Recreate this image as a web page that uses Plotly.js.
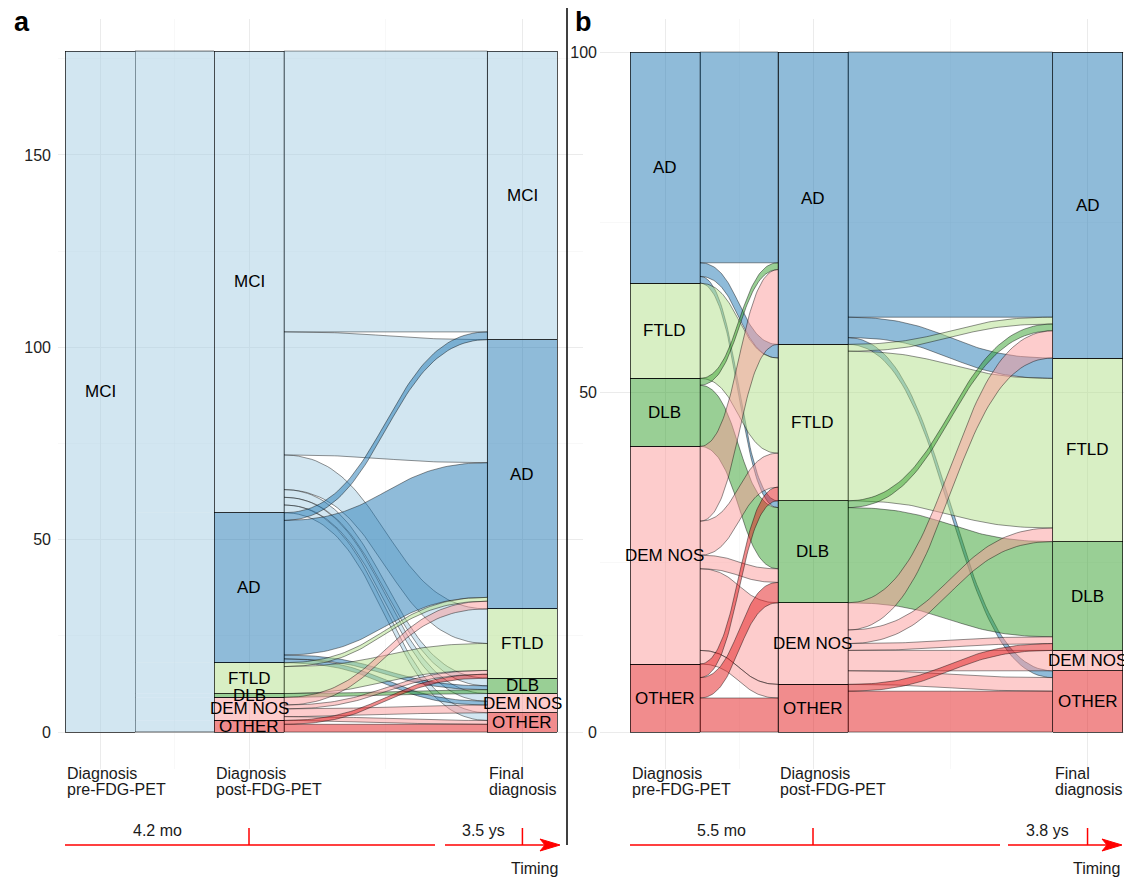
<!DOCTYPE html>
<html><head><meta charset="utf-8">
<script src="https://cdn.plot.ly/plotly-3.0.1.min.js"></script>
<style>html,body{margin:0;padding:0;background:#fff}#chart{width:1124px;height:877px}</style>
</head><body><div id="chart"></div>
<script>
// ---------------- DATA ----------------
const categories = ["MCI","AD","FTLD","DLB","DEM NOS","OTHER"];
const categoryColors = ["#A6CEE3","#1F78B4","#B2DF8A","#33A02C","#FB9A99","#E31A1C"];
const axisTitles = [["Diagnosis","pre-FDG-PET"],["Diagnosis","post-FDG-PET"],["Final","diagnosis"]];

// Panel a: MCI cohort (number of patients)  [from, to, count]
const flowsA_preToPost = [
  ["MCI","MCI",120],["MCI","AD",39],["MCI","FTLD",8],["MCI","DLB",1],["MCI","DEM NOS",6],["MCI","OTHER",3]
];
const flowsA_postToFinal = [
  ["MCI","MCI",73],["MCI","AD",32],["MCI","FTLD",9],["MCI","DLB",2],["MCI","DEM NOS",2],["MCI","OTHER",2],
  ["AD","MCI",2],["AD","AD",35],["AD","DLB",1],["AD","DEM NOS",1],
  ["FTLD","AD",1],["FTLD","FTLD",7],
  ["DLB","DLB",1],
  ["DEM NOS","AD",2],["DEM NOS","FTLD",1],["DEM NOS","DEM NOS",2],["DEM NOS","OTHER",1],
  ["OTHER","FTLD",1],["OTHER","OTHER",2]
];
const timingA = ["4.2 mo","3.5 ys"];
const yTicksA = [0,50,100,150];
const yMinorA = [25,75,125,175];

// Panel b: dementia cohort (%)  [from, to, percent]
const flowsB_preToPost = [
  ["AD","AD",31],["AD","FTLD",2],["AD","DLB",1],
  ["FTLD","FTLD",14],
  ["DLB","AD",1],["DLB","DLB",9],
  ["DEM NOS","AD",11],["DEM NOS","FTLD",5],["DEM NOS","DLB",2],["DEM NOS","DEM NOS",12],["DEM NOS","OTHER",2],
  ["OTHER","FTLD",2],["OTHER","DLB",3],["OTHER","OTHER",5]
];
const flowsB_postToFinal = [
  ["AD","AD",39],["AD","FTLD",3],["AD","OTHER",1],
  ["FTLD","AD",1],["FTLD","FTLD",22],
  ["DLB","AD",1],["DLB","DLB",14],
  ["DEM NOS","AD",4],["DEM NOS","FTLD",2],["DEM NOS","DLB",1],["DEM NOS","DEM NOS",3],["DEM NOS","OTHER",2],
  ["OTHER","DLB",1],["OTHER","OTHER",6]
];
const timingB = ["5.5 mo","3.8 ys"];
const yTicksB = [0,50,100];
const yMinorB = [25,75];

// ---------------- LAYOUT HELPERS ----------------
const W = 1124, H = 877;
const FONT = "Liberation Sans, Arial, Helvetica, sans-serif";
const py = px => (H - px) / H;
const px2x = px => px / W;
function rgba(hex, a){
  const n = parseInt(hex.slice(1),16);
  return `rgba(${(n>>16)&255},${(n>>8)&255},${n&255},${a})`;
}
const cIdx = c => categories.indexOf(c);

const panels = [
  {flows:[flowsA_preToPost, flowsA_postToFinal], outline:[false,true], xa:'x', ya:'y',
   xDomPx:[58,583], pos:[1,2,3.835], unitPx:149, firstCenterPx:100, pxPerUnitY:3.847,
   yTicks:yTicksA, yMinor:yMinorA, timing:timingA, letter:'a', letterPx:12, gapPx:[435,445], tipPx:560, standoff:6},
  {flows:[flowsB_preToPost, flowsB_postToFinal], outline:[true,true], xa:'x2', ya:'y2',
   xDomPx:[600,1124], pos:[1,2,3.855], unitPx:148, firstCenterPx:665, pxPerUnitY:6.8,
   yTicks:yTicksB, yMinor:yMinorB, timing:timingB, letter:'b', letterPx:573, gapPx:[1000,1008], tipPx:1122, standoff:2}
];
const Y0PX = 732, YTOPPX = 19, YBOTPX = 769;
const strataWidthPx = 70;

function totals(flows, side){
  const t = categories.map(()=>0);
  flows.forEach(f => { t[cIdx(f[side])] += f[2]; });
  return t;
}
function tops(tot){
  const total = tot.reduce((a,b)=>a+b,0);
  const res = []; let cur = total;
  tot.forEach((v,i)=>{ res[i]=cur; cur-=v; });
  return res;
}
function bez(p0,p1,p2,p3,t){
  const u=1-t; return u*u*u*p0+3*u*u*t*p1+3*u*t*t*p2+t*t*t*p3;
}
function curve(xL,yL,xR,yR,n){
  const dx = xR-xL, k=0.5, xs=[], ys=[];
  for(let i=0;i<=n;i++){
    const t=i/n;
    xs.push(bez(xL,xL+k*dx,xR-k*dx,xR,t));
    ys.push(bez(yL,yL,yR,yR,t));
  }
  return [xs,ys];
}

const traces = [], annotations = [], shapes = [];
const layout = {
  width:W, height:H, margin:{l:0,r:0,t:0,b:0}, paper_bgcolor:'#fff', plot_bgcolor:'rgba(0,0,0,0)',
  showlegend:false, barmode:'stack', font:{family:FONT, color:'#000'},
  annotations, shapes
};

panels.forEach((P, pi) => {
  const hw = strataWidthPx / P.unitPx / 2;
  const xr = [1 - (P.firstCenterPx - P.xDomPx[0]) / P.unitPx, 1 + (P.xDomPx[1] - P.firstCenterPx) / P.unitPx];
  const yr = [(Y0PX - YBOTPX) / P.pxPerUnitY, (Y0PX - YTOPPX) / P.pxPerUnitY];
  const xKey = pi===0 ? 'xaxis' : 'xaxis2', yKey = pi===0 ? 'yaxis' : 'yaxis2';
  const mids = [(P.pos[0]+P.pos[1])/2, (P.pos[1]+P.pos[2])/2];
  layout[xKey] = {domain:[px2x(P.xDomPx[0]), px2x(P.xDomPx[1])], range:xr, anchor:P.ya,
    tickmode:'array', tickvals:P.pos, showticklabels:false, ticks:'', showline:false, zeroline:false,
    showgrid:true, gridcolor:'#EBEBEB', gridwidth:1,
    minor:{tickmode:'array', tickvals:mids, showgrid:true, gridcolor:'#F3F3F3', gridwidth:0.6, ticks:''}};
  layout[yKey] = {domain:[py(YBOTPX), py(YTOPPX)], range:yr, anchor:P.xa,
    tickmode:'array', tickvals:P.yTicks, ticktext:P.yTicks.map(String), ticks:'', showline:false, zeroline:false,
    ticklabelstandoff:P.standoff,
    showgrid:true, gridcolor:'#EBEBEB', gridwidth:1, tickfont:{size:16, color:'#222', family:FONT},
    minor:{tickmode:'array', tickvals:P.yMinor, showgrid:true, gridcolor:'#F3F3F3', gridwidth:0.6, ticks:''}};

  const axTot = [totals(P.flows[0],0), totals(P.flows[0],1), totals(P.flows[1],1)];

  // flows
  P.flows.forEach((flows, fi) => {
    const fromTop = tops(totals(flows,0)), toTop = tops(totals(flows,1));
    const xL = P.pos[fi] + hw, xR = P.pos[fi+1] - hw;
    const L = {}, R = {};
    categories.forEach((c) => {
      let cur = fromTop[cIdx(c)];
      flows.filter(f=>f[0]===c).sort((a,b)=>cIdx(a[1])-cIdx(b[1])).forEach(f=>{
        L[f[0]+'|'+f[1]] = [cur, cur-f[2]]; cur -= f[2];
      });
      cur = toTop[cIdx(c)];
      flows.filter(f=>f[1]===c).sort((a,b)=>cIdx(a[0])-cIdx(b[0])).forEach(f=>{
        R[f[0]+'|'+f[1]] = [cur, cur-f[2]]; cur -= f[2];
      });
    });
    let topEdge=null, botEdge=null, maxTop=-1e9, minBot=1e9;
    flows.forEach(f => {
      const key = f[0]+'|'+f[1];
      const [lt, lb] = L[key], [rt, rb] = R[key];
      const [tx, ty] = curve(xL, lt, xR, rt, 60);
      const [bx, by] = curve(xL, lb, xR, rb, 60);
      const xs = tx.concat(bx.slice().reverse(), [tx[0]]);
      const ys = ty.concat(by.slice().reverse(), [ty[0]]);
      const tr = {type:'scatter', x:xs, y:ys, xaxis:P.xa, yaxis:P.ya, fill:'toself',
        fillcolor:rgba(categoryColors[cIdx(f[0])],0.5), hoverinfo:'skip', showlegend:false};
      if (P.outline[fi]) { tr.mode='lines'; tr.line={color:'rgba(0,0,0,0.85)', width:0.5}; }
      else { tr.mode='none'; }
      traces.push(tr);
      if (lt+rt > maxTop){ maxTop = lt+rt; topEdge=[tx,ty]; }
      if (lb+rb < minBot){ minBot = lb+rb; botEdge=[bx,by]; }
    });
    if (!P.outline[fi]) {
      [topEdge, botEdge].forEach(e => traces.push({type:'scatter', mode:'lines', x:e[0], y:e[1],
        xaxis:P.xa, yaxis:P.ya, line:{color:'rgba(0,0,0,0.85)', width:0.7}, hoverinfo:'skip', showlegend:false}));
    }
  });

  // strata as stacked bars (bottom category first)
  for (let ci = categories.length-1; ci >= 0; ci--) {
    const ys = axTot.map(t => t[ci] > 0 ? t[ci] : null);
    traces.push({type:'bar', x:P.pos, y:ys, width:2*hw, xaxis:P.xa, yaxis:P.ya,
      marker:{color:rgba(categoryColors[ci],0.5), line:{color:'rgba(0,0,0,0.85)', width:0.8}},
      hoverinfo:'skip', showlegend:false, textposition:'none'});
  }
  // strata labels
  axTot.forEach((tot, ai) => {
    const tp = tops(tot);
    tot.forEach((v, ci) => {
      if (v <= 0) return;
      annotations.push({x:P.pos[ai], y:tp[ci]-v/2, xref:P.xa, yref:P.ya, text:categories[ci],
        showarrow:false, font:{size:17, color:'#000', family:FONT}, xanchor:'center', yanchor:'middle'});
    });
  });

  // axis titles under strata
  const xref = P.xa;
  axisTitles.forEach((lines, ai) => {
    lines.forEach((t, li) => {
      annotations.push({x:P.pos[ai]-hw, y:py(773 + li*16.5), xref, yref:'paper', text:t, showarrow:false,
        xanchor:'left', yanchor:'middle', font:{size:16, color:'#1a1a1a', family:FONT}});
    });
  });

  // timing arrows
  const toX = px => 1 + (px - P.firstCenterPx) / P.unitPx;
  const yA = py(845), yTick = py(828);
  const red = '#FF0000';
  const start = P.pos[0]-hw, tip = toX(P.tipPx);
  const headLen = 20 / P.unitPx, headHalf = 6 / H;
  shapes.push({type:'line', xref, yref:'paper', x0:start, x1:toX(P.gapPx[0]), y0:yA, y1:yA, line:{color:red, width:1.5}});
  shapes.push({type:'line', xref, yref:'paper', x0:toX(P.gapPx[1]), x1:tip-headLen*0.8, y0:yA, y1:yA, line:{color:red, width:1.5}});
  shapes.push({type:'path', xref, yref:'paper',
    path:`M ${tip-headLen},${yA+headHalf} L ${tip},${yA} L ${tip-headLen},${yA-headHalf} L ${tip-headLen*0.75},${yA} Z`,
    fillcolor:red, line:{color:red, width:1}});
  [P.pos[1], P.pos[2]].forEach(xv => shapes.push({type:'line', xref, yref:'paper', x0:xv, x1:xv, y0:yA, y1:yTick, line:{color:red, width:1.5}}));
  annotations.push({x:(start+P.pos[1])/2, y:py(830), xref, yref:'paper', text:P.timing[0], showarrow:false,
    xanchor:'center', yanchor:'middle', font:{size:16, color:'#1a1a1a', family:FONT}});
  annotations.push({x:(toX(P.gapPx[1])+P.pos[2])/2, y:py(830), xref, yref:'paper', text:P.timing[1], showarrow:false,
    xanchor:'center', yanchor:'middle', font:{size:16, color:'#1a1a1a', family:FONT}});
  annotations.push({x:px2x(P.tipPx), y:py(868), xref:'paper', yref:'paper', text:'Timing', showarrow:false,
    xanchor:'right', yanchor:'middle', font:{size:16, color:'#1a1a1a', family:FONT}});

  // panel letter
  annotations.push({x:px2x(P.letterPx), y:py(22), xref:'paper', yref:'paper', text:'<b>'+P.letter+'</b>',
    showarrow:false, xanchor:'left', yanchor:'middle', font:{size:27, color:'#000', family:FONT}});
});

// separator between panels
shapes.push({type:'line', xref:'paper', yref:'paper', x0:px2x(567), x1:px2x(567), y0:py(8), y1:py(845), line:{color:'#000', width:1.5}});

Plotly.newPlot('chart', traces, layout, {displayModeBar:false, staticPlot:true});
</script>
</body></html>
